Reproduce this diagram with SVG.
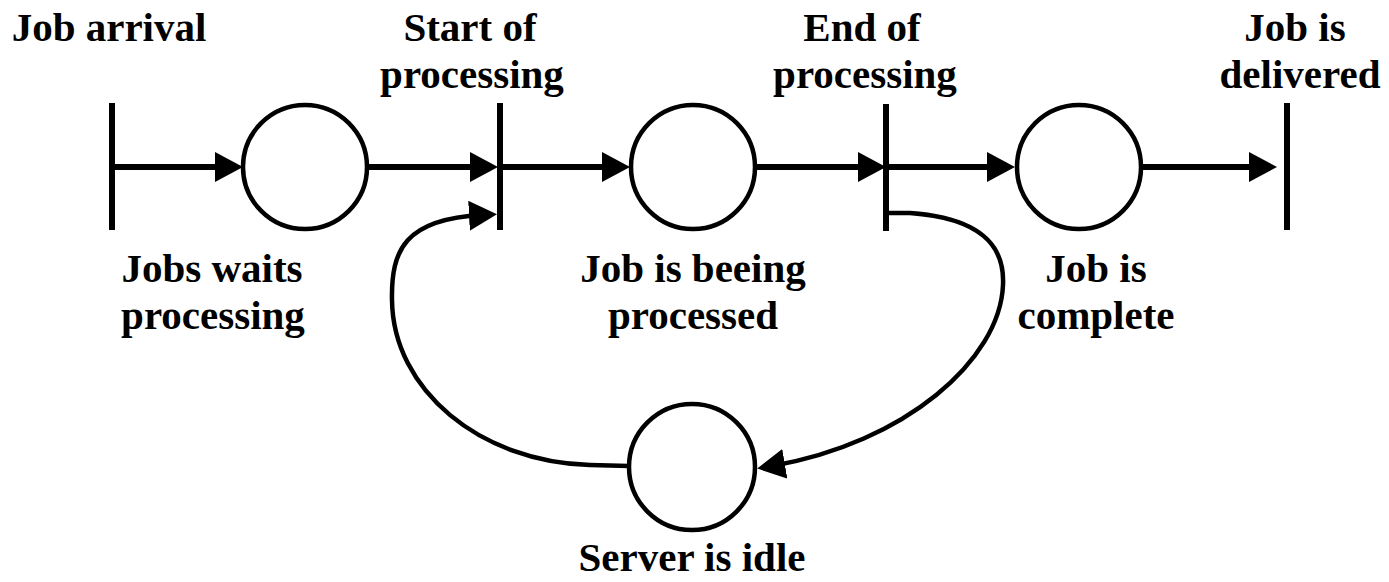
<svg xmlns="http://www.w3.org/2000/svg" width="1389" height="582" viewBox="0 0 1389 582">
<style>
.lbl{font-family:"Liberation Serif","Times New Roman",serif;font-weight:bold;font-size:41px;fill:#000;text-anchor:middle}
.place{fill:#fff;stroke:#000;stroke-width:4.5}
.bar{stroke:#000;stroke-width:6;fill:none}
.arc{fill:none;stroke:#000;stroke-width:6;marker-end:url(#ah)}
.loop{fill:none;stroke:#000;stroke-width:4.5;marker-end:url(#ah)}
</style>
<defs>
<marker id="ah" markerUnits="userSpaceOnUse" markerWidth="28" markerHeight="30" viewBox="0 0 28 30" refX="13" refY="15" orient="auto">
<path d="M0,0 L28,15 L0,30 z" fill="#000"/>
</marker>
</defs>
<rect width="1389" height="582" fill="#fff"/>
<g id="connectors">
<path class="arc" d="M112 167 H228"/>
<path class="arc" d="M367 167 H483"/>
<path class="arc" d="M500 167 H615"/>
<path class="arc" d="M755 167 H871"/>
<path class="arc" d="M886 167 H1000"/>
<path class="arc" d="M1141 167 H1262"/>
<path class="loop" d="M629 466 L590 465 C480 462 393 390 392 300 C391 250 405 219 482 215"/>
<path class="loop" d="M886 213 L910 213 C980 218 1005 245 1003 285 C1000 360 905 443 772 466"/>
</g>
<g id="t-arrival">
<line class="bar" x1="112" y1="103" x2="112" y2="230"/>
<text class="lbl" x="109" y="41">Job arrival</text>
</g>
<g id="t-start">
<line class="bar" x1="500" y1="103" x2="500" y2="230"/>
<text class="lbl" x="470" y="41">Start of</text>
<text class="lbl" x="472" y="88">processing</text>
</g>
<g id="t-end">
<line class="bar" x1="886" y1="104" x2="886" y2="231"/>
<text class="lbl" x="862" y="41">End of</text>
<text class="lbl" x="865" y="88">processing</text>
</g>
<g id="t-delivered">
<line class="bar" x1="1287" y1="103" x2="1287" y2="230"/>
<text class="lbl" x="1295" y="41">Job is</text>
<text class="lbl" x="1300" y="88">delivered</text>
</g>
<g id="p-waits">
<circle class="place" cx="305" cy="167" r="62"/>
<text class="lbl" x="212" y="282">Jobs waits</text>
<text class="lbl" x="213" y="329">processing</text>
</g>
<g id="p-processing">
<circle class="place" cx="693" cy="167" r="62"/>
<text class="lbl" x="693" y="282">Job is beeing</text>
<text class="lbl" x="693" y="329">processed</text>
</g>
<g id="p-complete">
<circle class="place" cx="1079" cy="167" r="62"/>
<text class="lbl" x="1096" y="282">Job is</text>
<text class="lbl" x="1096" y="329">complete</text>
</g>
<g id="p-idle">
<circle class="place" cx="692" cy="467" r="63"/>
<text class="lbl" x="692" y="571">Server is idle</text>
</g>
</svg>
